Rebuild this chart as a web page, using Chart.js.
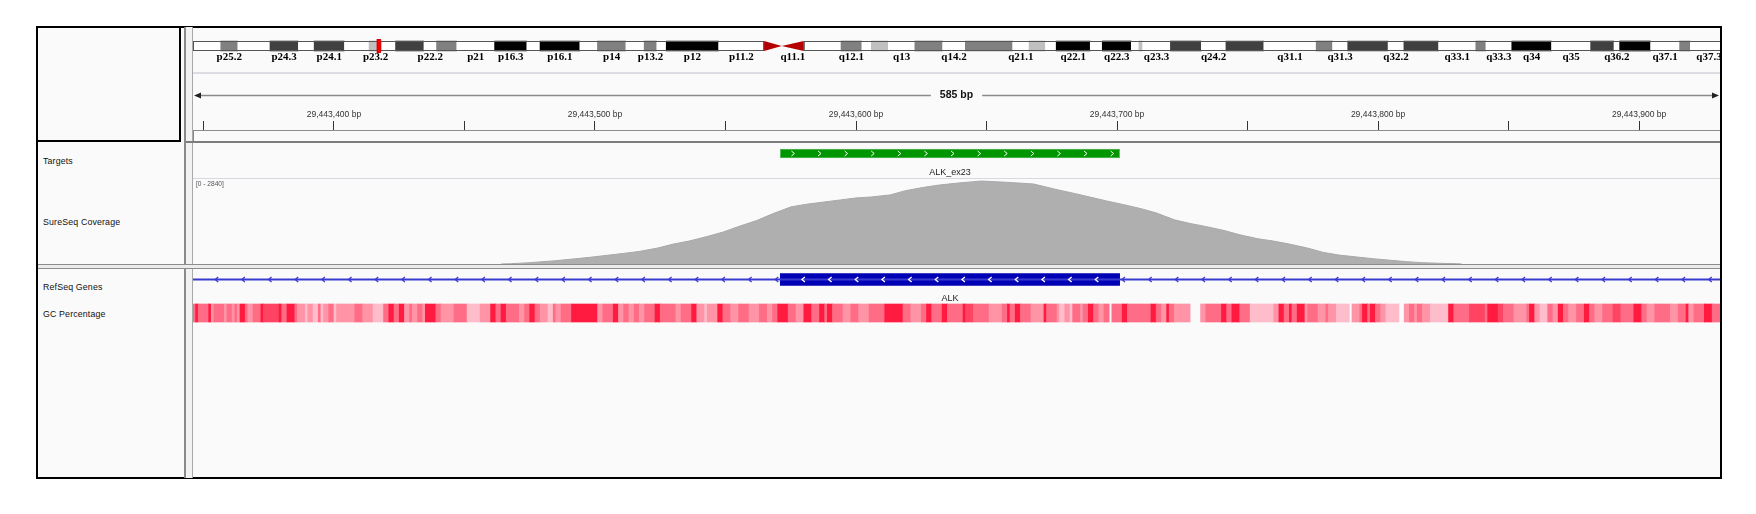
<!DOCTYPE html>
<html>
<head>
<meta charset="utf-8">
<script src="https://cdn.jsdelivr.net/npm/chart.js@4.4.1/dist/chart.umd.min.js"></script>
<style>
  html, body { margin: 0; padding: 0; background: #fff; }
  body { width: 1756px; height: 514px; position: relative; overflow: hidden; font-family: "Liberation Sans", Arial, sans-serif; }
  #frame { position: absolute; left: 36px; top: 26px; width: 1686px; height: 453px; border: 2px solid #000; box-sizing: border-box; background: #fafafa; }
  .ln { position: absolute; }
  .name { position: absolute; left: 43px; font-size: 8.8px; letter-spacing: 0.15px; line-height: 10px; height: 10px; color: #111; white-space: nowrap; }
  .box { position: absolute; }
</style>
</head>
<body>
<div id="frame"></div>

<!-- panel dividers -->
<div class="ln" style="left:179px;top:27px;width:2px;height:115px;background:#000"></div>
<div class="ln" style="left:37px;top:140px;width:144px;height:2px;background:#000"></div>
<div class="ln" style="left:186px;top:27px;width:6px;height:451px;background:#f2f2f2"></div>
<div class="ln" style="left:184px;top:27px;width:2px;height:451px;background:#8a8a8a"></div>
<div class="ln" style="left:192px;top:27px;width:1px;height:451px;background:#a8a8a8"></div>
<div class="ln" style="left:193px;top:72px;width:1527px;height:2px;background:#dcdce2"></div>
<div class="ln" style="left:193px;top:131px;width:1px;height:10px;background:#888"></div>
<div class="ln" style="left:186px;top:141px;width:1534px;height:2px;background:#7c7c7c"></div>
<div class="ln" style="left:193px;top:178px;width:1527px;height:1px;background:#d8d8e0"></div>
<div class="ln" style="left:38px;top:265px;width:1682px;height:3px;background:#ececec"></div>
<div class="ln" style="left:38px;top:264px;width:1682px;height:1px;background:#8c8c8c"></div>
<div class="ln" style="left:38px;top:268px;width:1682px;height:1px;background:#8c8c8c"></div>

<!-- track names -->
<div class="name" style="top:156px">Targets</div>
<div class="name" style="top:217px">SureSeq Coverage</div>
<div class="name" style="top:282px">RefSeq Genes</div>
<div class="name" style="top:309px">GC Percentage</div>

<div class="box" style="left:193px;top:36px;width:1527px;height:30px"><canvas id="ideo"></canvas></div>
<div class="box" style="left:193px;top:80px;width:1527px;height:80px"><canvas id="ruler"></canvas></div>
<div class="box" style="left:193px;top:143px;width:1527px;height:35px"><canvas id="targets"></canvas></div>
<div class="box" style="left:193px;top:179px;width:1527px;height:85px"><canvas id="coverage"></canvas></div>
<div class="box" style="left:193px;top:269px;width:1527px;height:34px"><canvas id="genes"></canvas></div>
<div class="box" style="left:193px;top:300px;width:1527px;height:26px"><canvas id="gc"></canvas></div>

<script>
// View (chr2)
const viewStart = 29443346;
const viewEnd = 29443931;
const rulerTicks = [29443350, 29443400, 29443450, 29443500, 29443550, 29443600,
                    29443650, 29443700, 29443750, 29443800, 29443850, 29443900];

// Ideogram bands, chr2 (Mb)
const bandName = ["p25.3","p25.2","p25.1","p24.3","p24.2","p24.1","p23.3","p23.2","p23.1","p22.3",
  "p22.2","p22.1","p21","p16.3","p16.2","p16.1","p15","p14","p13.3","p13.2","p13.1","p12","p11.2",
  "p11.1","q11.1","q11.2","q12.1","q12.2","q12.3","q13","q14.1","q14.2","q14.3","q21.1","q21.2",
  "q21.3","q22.1","q22.2","q22.3","q23.1","q23.2","q23.3","q24.1","q24.2","q24.3","q31.1","q31.2",
  "q31.3","q32.1","q32.2","q32.3","q33.1","q33.2","q33.3","q34","q35","q36.1","q36.2","q36.3",
  "q37.1","q37.2","q37.3"];
const bandStart = [0,4.4,7.1,12.2,16.7,19.2,24.0,27.9,30.0,32.1,36.6,38.6,41.8,47.8,52.9,55.0,61.3,
  64.1,68.6,71.5,73.5,75.0,83.3,90.5,93.3,96.8,102.7,106.0,107.5,110.2,114.4,118.8,122.4,129.9,
  132.5,135.1,136.8,142.2,144.1,148.7,149.9,150.5,154.9,159.8,163.7,169.7,178.0,180.6,183.0,189.4,
  191.9,197.4,203.3,204.9,209.0,215.3,221.5,225.2,226.1,231.0,235.6,237.3];
const bandEnd = [4.4,7.1,12.2,16.7,19.2,24.0,27.9,30.0,32.1,36.6,38.6,41.8,47.8,52.9,55.0,61.3,64.1,
  68.6,71.5,73.5,75.0,83.3,90.5,93.3,96.8,102.7,106.0,107.5,110.2,114.4,118.8,122.4,129.9,132.5,
  135.1,136.8,142.2,144.1,148.7,149.9,150.5,154.9,159.8,163.7,169.7,178.0,180.6,183.0,189.4,191.9,
  197.4,203.3,204.9,209.0,215.3,221.5,225.2,226.1,231.0,235.6,237.3,243.2];
const bandStain = ["gneg","gpos50","gneg","gpos75","gneg","gpos75","gneg","gpos25","gneg","gpos75",
  "gneg","gpos50","gneg","gpos100","gneg","gpos100","gneg","gpos50","gneg","gpos50","gneg","gpos100",
  "gneg","acen","acen","gneg","gpos50","gneg","gpos25","gneg","gpos50","gneg","gpos50","gneg",
  "gpos25","gneg","gpos100","gneg","gpos100","gneg","gpos25","gneg","gpos75","gneg","gpos75","gneg",
  "gpos50","gneg","gpos75","gneg","gpos75","gneg","gpos50","gneg","gpos100","gneg","gpos75","gneg",
  "gpos100","gneg","gpos50","gneg"];
const bandLabels = ["p25.2","p24.3","p24.1","p23.2","p22.2","p21","p16.3","p16.1","p14","p13.2",
  "p12","p11.2","q11.1","q12.1","q13","q14.2","q21.1","q22.1","q22.3","q23.3","q24.2","q31.1",
  "q31.3","q32.2","q33.1","q33.3","q34","q35","q36.2","q37.1","q37.3"];
const ideoMaxMb = 242.0;

// Targets / genes
const targetName = "ALK_ex23";
const targetStart = 29443571;
const targetEnd = 29443701;
const geneName = "ALK";
const geneStart = 29415640;
const geneEnd = 30144477;
const exonStart = 29443571;
const exonEnd = 29443701;

// Coverage (positions relative to 29,443,000)
const covBase = 29443000;
const covRange = [0, 2840];
const covPos = [464, 468, 475, 485, 498, 511, 517, 524, 530, 536, 543, 549, 555, 562, 568, 575, 581,
  587, 594, 600, 606, 613, 619, 626, 632, 638, 645, 648, 658, 668, 677, 684, 690, 696, 703, 709, 715,
  722, 728, 734, 741, 747, 754, 760, 766, 773, 779, 785, 792, 798, 805, 811, 817, 824, 830, 832];
const covVal = [0, 11, 44, 111, 222, 355, 421, 532, 665, 765, 920, 1065, 1253, 1453, 1675, 1907, 1996,
  2063, 2140, 2207, 2240, 2307, 2451, 2562, 2640, 2695, 2750, 2773, 2728, 2673, 2484, 2351, 2229,
  2107, 1974, 1852, 1708, 1475, 1353, 1253, 1120, 976, 843, 765, 665, 532, 388, 299, 233, 177, 122,
  78, 44, 22, 11, 0];

// GC percentage segments (start relative to 29,443,000, percent; null = no data)
const gcStart = [346,347,348,352,353,354,358,359,361,362,363,364,366,367,369,372,373,379,380,382,
  385,386,389,390,392,394,395,396,398,400,401,408,411,415,419,421,423,425,427,429,430,432,434,435,
  439,441,446,451,456,460,462,464,466,471,473,475,477,479,482,484,485,487,491,501,503,507,509,511,
  513,515,517,519,523,525,531,533,537,539,542,543,547,549,552,555,559,563,566,568,570,574,577,580,
  583,586,588,589,591,595,598,601,605,611,618,621,625,627,629,633,635,641,642,645,651,656,658,659,
  661,663,667,672,673,677,678,680,682,683,686,687,689,691,693,695,697,698,702,704,713,715,717,719,
  720,722,728,732,734,740,742,744,747,751,760,762,764,766,767,769,772,773,777,780,781,784,789,790,
  793,794,796,797,799,801,803,808,810,812,814,815,817,820,827,829,835,841,842,846,848,852,857,858,
  860,862,865,867,869,871,873,876,879,881,883,886,890,893,898,901,903,906,912,915,918,919,921,925,928];
const gcPct = [60,90,60,90,45,60,45,60,45,60,45,90,60,45,60,90,75,90,60,90,
  60,45,30,45,30,60,30,45,60,30,45,60,45,30,60,90,60,90,45,60,45,60,45,90,
  60,45,60,30,45,90,60,90,60,45,60,90,60,45,30,60,45,60,90,45,60,90,45,60,
  45,60,45,60,90,60,45,60,90,45,30,45,90,60,45,60,45,60,45,60,90,60,45,90,
  60,90,60,90,60,45,60,45,60,90,60,45,60,90,60,90,60,90,75,60,45,60,90,60,
  90,60,45,90,60,45,30,45,30,60,45,60,90,60,45,60,null,60,90,60,90,60,45,90,
  60,45,null,45,60,90,60,90,60,30,45,90,60,90,60,90,45,60,45,60,45,30,null,45,
  60,90,60,90,60,45,30,null,45,60,45,60,45,30,90,60,75,60,90,75,60,45,60,90,
  45,30,60,45,90,60,45,60,90,60,45,60,75,60,90,60,45,60,45,60,90,45,60,90,60];

Chart.defaults.font.family = '"Liberation Sans", Arial, sans-serif';
Chart.defaults.animation = false;
Chart.defaults.responsive = true;
Chart.defaults.maintainAspectRatio = false;
Chart.defaults.plugins.legend.display = false;
Chart.defaults.plugins.tooltip.enabled = false;

const stainColour = { gneg: "#ffffff", gpos25: "#c0c0c0", gpos50: "#808080", gpos75: "#404040",
  gpos100: "#000000", acen: "rgba(0,0,0,0)" };

function gcColour(p) {
  const t = Math.min(1, Math.max(0, (p - 20) / 80));
  const g = Math.round(215 * (1 - t));
  const b = Math.round(225 * (1 - t) + 40 * t);
  return "rgb(255," + g + "," + b + ")";
}

function viewScale() {
  return { type: "linear", min: viewStart, max: viewEnd, display: false };
}

function rowScale(label) {
  return { type: "category", labels: [label], display: false };
}

// ---- Ideogram ----
const ideoThickness = 10;
const ideoPlugin = {
  id: "ideoDecor",
  afterDatasetsDraw(chart) {
    const { ctx, scales: { x, y } } = chart;
    const mid = y.getPixelForValue(0);
    const top = mid - ideoThickness / 2, bot = mid + ideoThickness / 2;
    ctx.save();
    // centromere
    ctx.fillStyle = "#b40000";
    bandStain.forEach((s, i) => {
      if (s !== "acen") return;
      const x0 = x.getPixelForValue(bandStart[i]), x1 = x.getPixelForValue(bandEnd[i]);
      ctx.beginPath();
      if (bandName[i].startsWith("p")) {
        ctx.moveTo(x0, top); ctx.lineTo(x0, bot); ctx.lineTo(x1, mid);
      } else {
        ctx.moveTo(x1, top); ctx.lineTo(x1, bot); ctx.lineTo(x0, mid);
      }
      ctx.closePath();
      ctx.fill();
    });
    // outline of the arms
    const pEnd = bandStart[bandStain.indexOf("acen")];
    const qStart = bandEnd[bandStain.lastIndexOf("acen")];
    ctx.strokeStyle = "#555";
    ctx.lineWidth = 1;
    const xs = x.getPixelForValue(0), xp = x.getPixelForValue(pEnd);
    const xq = x.getPixelForValue(qStart), xe = x.getPixelForValue(bandEnd[bandEnd.length - 1]);
    ctx.strokeRect(xs + 0.5, top + 0.5, xp - xs - 1, ideoThickness - 1);
    ctx.strokeRect(xq + 0.5, top + 0.5, xe - xq - 1, ideoThickness - 1);
    // labels
    ctx.fillStyle = "#000";
    ctx.font = 'bold 11px "Liberation Serif", "Times New Roman", serif';
    ctx.textAlign = "center";
    ctx.textBaseline = "middle";
    bandLabels.forEach(name => {
      const i = bandName.indexOf(name);
      const cx = x.getPixelForValue((bandStart[i] + bandEnd[i]) / 2);
      ctx.fillText(name, cx, bot + 6);
    });
    // current view marker
    const cx = x.getPixelForValue((viewStart + viewEnd) / 2 / 1e6);
    ctx.fillStyle = "#ff0000";
    ctx.fillRect(cx - 2, top - 2, 4, ideoThickness + 4);
    ctx.strokeStyle = "#cc0000";
    ctx.strokeRect(cx - 2 + 0.5, top - 2 + 0.5, 3, ideoThickness + 3);
    ctx.restore();
  }
};

new Chart(document.getElementById("ideo"), {
  type: "bar",
  data: {
    datasets: [{
      data: bandStart.map((s, i) => ({ x: [s, bandEnd[i]], y: "chr2" })),
      backgroundColor: bandStain.map(s => stainColour[s]),
      borderWidth: 0,
      barThickness: ideoThickness
    }]
  },
  options: {
    indexAxis: "y",
    layout: { padding: { bottom: 10 } },
    scales: { x: { type: "linear", min: 0, max: ideoMaxMb, display: false }, y: rowScale("chr2") }
  },
  plugins: [ideoPlugin]
});

// ---- Ruler ----
const scaleBarPlugin = {
  id: "scaleBar",
  afterDraw(chart) {
    const { ctx, chartArea } = chart;
    const yy = 15.5;
    const l = chartArea.left + 1, r = chartArea.right - 1;
    const label = (viewEnd - viewStart) + " bp";
    ctx.save();
    ctx.font = 'bold 10.5px "Liberation Sans", Arial, sans-serif';
    const w = ctx.measureText(label).width;
    const cx = (l + r) / 2;
    ctx.strokeStyle = "#8a8a8a";
    ctx.lineWidth = 1.5;
    ctx.beginPath();
    ctx.moveTo(l + 4, yy); ctx.lineTo(cx - w / 2 - 9, yy);
    ctx.moveTo(cx + w / 2 + 9, yy); ctx.lineTo(r - 4, yy);
    ctx.stroke();
    ctx.fillStyle = "#222";
    ctx.beginPath();
    ctx.moveTo(l, yy); ctx.lineTo(l + 7, yy - 3); ctx.lineTo(l + 7, yy + 3); ctx.closePath();
    ctx.moveTo(r, yy); ctx.lineTo(r - 7, yy - 3); ctx.lineTo(r - 7, yy + 3); ctx.closePath();
    ctx.fill();
    ctx.fillStyle = "#111";
    ctx.textAlign = "center";
    ctx.textBaseline = "middle";
    ctx.fillText(label, cx, yy);
    ctx.restore();
  }
};

new Chart(document.getElementById("ruler"), {
  type: "scatter",
  data: { datasets: [{ data: [] }] },
  options: {
    layout: { padding: { top: 28.5 } },
    scales: {
      x: {
        type: "linear",
        position: "top",
        min: viewStart,
        max: viewEnd,
        afterBuildTicks: axis => { axis.ticks = rulerTicks.map(v => ({ value: v })); },
        ticks: {
          autoSkip: false,
          maxRotation: 0,
          padding: 2,
          color: "#333",
          font: { size: 8.5, lineHeight: 1 },
          callback: v => (v % 100 === 0 ? v.toLocaleString("en-US") + " bp" : "")
        },
        grid: { drawOnChartArea: false, drawTicks: true, tickLength: 9, color: "#333", lineWidth: 1 },
        border: { display: true, color: "#8c8c8c", width: 1 }
      },
      y: { display: false, min: 0, max: 1 }
    }
  },
  plugins: [scaleBarPlugin]
});

// ---- Targets ----
const targetThickness = 9;
const targetPlugin = {
  id: "targetDecor",
  afterDatasetsDraw(chart) {
    const { ctx, scales: { x, y } } = chart;
    const mid = y.getPixelForValue(0);
    const x0 = x.getPixelForValue(targetStart), x1 = x.getPixelForValue(targetEnd);
    ctx.save();
    ctx.strokeStyle = "#fff";
    ctx.lineWidth = 1;
    for (let cx = x0 + 12.6; cx < x1 - 4; cx += 26.6) {
      ctx.beginPath();
      ctx.moveTo(cx - 1.5, mid - 2.5); ctx.lineTo(cx + 1.5, mid); ctx.lineTo(cx - 1.5, mid + 2.5);
      ctx.stroke();
    }
    ctx.fillStyle = "#222";
    ctx.font = '9px "Liberation Sans", Arial, sans-serif';
    ctx.textAlign = "center";
    ctx.textBaseline = "middle";
    ctx.fillText(targetName, (x0 + x1) / 2, mid + 19);
    ctx.restore();
  }
};

new Chart(document.getElementById("targets"), {
  type: "bar",
  data: {
    datasets: [{
      data: [{ x: [targetStart, targetEnd], y: "Targets" }],
      backgroundColor: "#009600",
      borderColor: "#5cb85c",
      borderWidth: 1,
      borderSkipped: false,
      barThickness: targetThickness
    }]
  },
  options: {
    indexAxis: "y",
    layout: { padding: { bottom: 14 } },
    scales: { x: viewScale(), y: rowScale("Targets") }
  },
  plugins: [targetPlugin]
});

// ---- Coverage ----
const rangePlugin = {
  id: "rangeLabel",
  afterDraw(chart) {
    const { ctx } = chart;
    ctx.save();
    ctx.fillStyle = "#555";
    ctx.font = '6.6px "Liberation Sans", Arial, sans-serif';
    ctx.textBaseline = "middle";
    ctx.fillText("[" + covRange[0] + " - " + covRange[1] + "]", 3, 5);
    ctx.restore();
  }
};

new Chart(document.getElementById("coverage"), {
  type: "line",
  data: {
    datasets: [{
      data: covPos.map((p, i) => ({ x: covBase + p, y: covVal[i] })),
      fill: "origin",
      backgroundColor: "#afafaf",
      borderColor: "#a8a8a8",
      borderWidth: 1,
      pointRadius: 0,
      tension: 0
    }]
  },
  options: {
    scales: { x: viewScale(), y: { type: "linear", min: covRange[0], max: covRange[1], display: false } }
  },
  plugins: [rangePlugin]
});

// ---- RefSeq genes ----
const exonThickness = 12;
const genePlugin = {
  id: "geneDecor",
  afterDatasetsDraw(chart) {
    const { ctx, chartArea, scales: { x, y } } = chart;
    const mid = y.getPixelForValue(0);
    const e0 = x.getPixelForValue(exonStart), e1 = x.getPixelForValue(exonEnd);
    ctx.save();
    ctx.lineWidth = 1.3;
    for (let cx = chartArea.left + 23.7; cx < chartArea.right - 2; cx += 26.67) {
      const inExon = cx > e0 + 3 && cx < e1 - 3;
      ctx.strokeStyle = inExon ? "#fff" : "#3a3ad0";
      ctx.beginPath();
      ctx.moveTo(cx + 1.5, mid - 2.5); ctx.lineTo(cx - 1.5, mid); ctx.lineTo(cx + 1.5, mid + 2.5);
      ctx.stroke();
    }
    ctx.fillStyle = "#222";
    ctx.font = '9px "Liberation Sans", Arial, sans-serif';
    ctx.textAlign = "center";
    ctx.textBaseline = "middle";
    ctx.fillText(geneName, (e0 + e1) / 2, mid + 19);
    ctx.restore();
  }
};

new Chart(document.getElementById("genes"), {
  type: "bar",
  data: {
    datasets: [
      {
        data: [{ x: [geneStart, geneEnd], y: "ALK" }],
        backgroundColor: "#3a3ad0",
        borderWidth: 0,
        barThickness: 1.2,
        grouped: false
      },
      {
        data: [{ x: [exonStart, exonEnd], y: "ALK" }],
        backgroundColor: "#0000b4",
        borderWidth: 0,
        barThickness: exonThickness,
        grouped: false
      }
    ]
  },
  options: {
    indexAxis: "y",
    layout: { padding: { bottom: 13 } },
    scales: { x: viewScale(), y: rowScale("ALK") }
  },
  plugins: [genePlugin]
});

// ---- GC percentage ----
const gcData = [];
const gcColours = [];
gcStart.forEach((s, i) => {
  if (gcPct[i] === null) return;
  const e = i + 1 < gcStart.length ? gcStart[i + 1] : viewEnd - covBase;
  gcData.push({ x: [covBase + s, covBase + e], y: "GC" });
  gcColours.push(gcColour(gcPct[i]));
});

new Chart(document.getElementById("gc"), {
  type: "bar",
  data: {
    datasets: [{
      data: gcData,
      backgroundColor: gcColours,
      borderWidth: 0,
      barThickness: 18
    }]
  },
  options: {
    indexAxis: "y",
    scales: { x: viewScale(), y: rowScale("GC") }
  }
});
</script>
</body>
</html>
